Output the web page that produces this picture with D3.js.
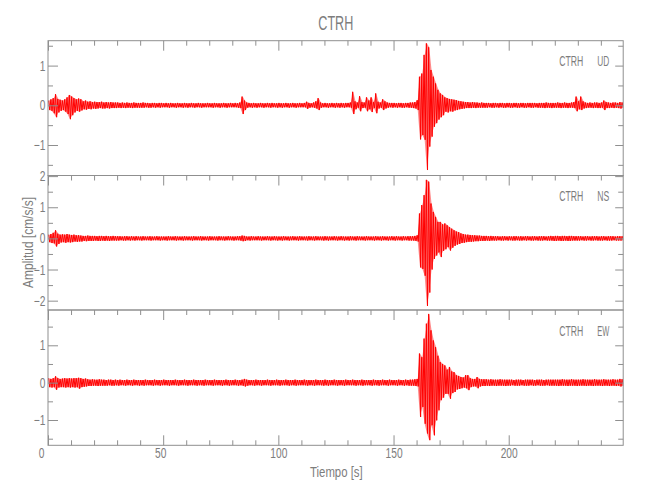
<!DOCTYPE html>
<html><head><meta charset="utf-8">
<script src="https://cdn.jsdelivr.net/npm/d3@7"></script>
<style>body{margin:0;background:#fff}svg{display:block}</style>
</head><body><svg id="c" width="650" height="500"></svg>
<script>
// ---------------- data ----------------
const station = "CTRH";
const components = ["UD", "NS", "EW"];
const xTickValues = [0, 50, 100, 150, 200];
const binSeconds = 1;            // each value = extreme of the trace in one 1-s window
const xLabel = "Tiempo [s]";
const yLabel = "Amplitud [cm/s/s]";

// UD: per-second maxima / minima (cm/s/s)
const udHi = [
0.12,0.15,0.18,0.28,0.16,0.14,0.12,0.15,0.20,0.26,
0.22,0.18,0.15,0.17,0.15,0.10,0.12,0.09,0.10,0.08,
0.09,0.08,0.08,0.09,0.07,0.08,0.07,0.08,0.07,0.07,
0.07,0.06,0.07,0.06,0.07,0.06,0.06,0.07,0.06,0.06,
0.06,0.07,0.06,0.06,0.05,0.06,0.06,0.05,0.06,0.06,
0.05,0.06,0.05,0.06,0.05,0.05,0.06,0.05,0.05,0.06,
0.05,0.05,0.06,0.05,0.05,0.06,0.05,0.05,0.05,0.06,
0.05,0.05,0.06,0.05,0.05,0.05,0.06,0.05,0.05,0.06,
0.05,0.06,0.05,0.07,0.22,0.12,0.07,0.06,0.05,0.06,
0.05,0.05,0.06,0.05,0.05,0.06,0.05,0.06,0.05,0.05,
0.06,0.05,0.05,0.06,0.05,0.05,0.06,0.05,0.05,0.06,
0.05,0.06,0.09,0.06,0.05,0.07,0.10,0.18,0.07,0.05,
0.06,0.05,0.05,0.06,0.05,0.06,0.05,0.06,0.05,0.06,
0.06,0.07,0.34,0.10,0.07,0.23,0.08,0.07,0.20,0.12,
0.20,0.08,0.30,0.09,0.07,0.15,0.10,0.07,0.06,0.06,
0.06,0.05,0.06,0.06,0.05,0.06,0.06,0.07,0.07,0.08,
0.13,0.72,0.80,1.27,1.56,1.46,0.89,0.72,0.55,0.39,
0.30,0.26,0.20,0.18,0.16,0.15,0.14,0.13,0.11,0.10,
0.09,0.08,0.08,0.07,0.08,0.07,0.07,0.06,0.07,0.06,
0.06,0.06,0.05,0.06,0.06,0.05,0.06,0.06,0.05,0.06,
0.06,0.05,0.06,0.06,0.05,0.06,0.06,0.05,0.06,0.06,
0.06,0.06,0.05,0.06,0.06,0.06,0.07,0.06,0.06,0.06,
0.06,0.07,0.06,0.06,0.07,0.06,0.06,0.07,0.08,0.22,
0.10,0.22,0.10,0.07,0.06,0.07,0.06,0.07,0.07,0.06,
0.07,0.12,0.08,0.07,0.06,0.07,0.07,0.06,0.08,0.07];
const udLo = [
-0.12,-0.14,-0.20,-0.30,-0.18,-0.14,-0.12,-0.16,-0.22,-0.35,
-0.25,-0.18,-0.14,-0.16,-0.13,-0.10,-0.11,-0.09,-0.10,-0.08,
-0.09,-0.08,-0.07,-0.08,-0.08,-0.07,-0.08,-0.07,-0.07,-0.07,
-0.06,-0.07,-0.06,-0.07,-0.06,-0.06,-0.07,-0.06,-0.06,-0.06,
-0.06,-0.06,-0.05,-0.06,-0.06,-0.05,-0.06,-0.05,-0.06,-0.05,
-0.05,-0.05,-0.06,-0.05,-0.05,-0.06,-0.05,-0.05,-0.06,-0.05,
-0.06,-0.05,-0.05,-0.06,-0.05,-0.05,-0.06,-0.05,-0.05,-0.05,
-0.05,-0.06,-0.05,-0.05,-0.06,-0.05,-0.05,-0.06,-0.05,-0.05,
-0.05,-0.05,-0.06,-0.07,-0.22,-0.12,-0.06,-0.05,-0.06,-0.05,
-0.06,-0.05,-0.05,-0.06,-0.05,-0.05,-0.06,-0.05,-0.05,-0.06,
-0.05,-0.06,-0.05,-0.05,-0.06,-0.05,-0.05,-0.06,-0.05,-0.05,
-0.05,-0.05,-0.09,-0.06,-0.05,-0.06,-0.08,-0.12,-0.06,-0.05,
-0.05,-0.06,-0.05,-0.05,-0.06,-0.05,-0.06,-0.05,-0.06,-0.05,
-0.05,-0.06,-0.22,-0.10,-0.06,-0.15,-0.07,-0.06,-0.15,-0.10,
-0.17,-0.07,-0.20,-0.08,-0.06,-0.12,-0.08,-0.06,-0.05,-0.06,
-0.05,-0.06,-0.05,-0.06,-0.06,-0.05,-0.06,-0.06,-0.07,-0.08,
-0.12,-0.86,-0.75,-0.87,-1.63,-1.04,-0.79,-0.54,-0.45,-0.36,
-0.30,-0.25,-0.16,-0.18,-0.15,-0.16,-0.13,-0.12,-0.10,-0.09,
-0.08,-0.07,-0.07,-0.07,-0.06,-0.07,-0.06,-0.06,-0.06,-0.06,
-0.06,-0.05,-0.06,-0.06,-0.05,-0.06,-0.05,-0.06,-0.06,-0.05,
-0.06,-0.06,-0.05,-0.06,-0.06,-0.05,-0.06,-0.06,-0.05,-0.06,
-0.06,-0.05,-0.06,-0.06,-0.06,-0.07,-0.06,-0.06,-0.07,-0.06,
-0.06,-0.06,-0.07,-0.06,-0.06,-0.07,-0.06,-0.06,-0.07,-0.15,
-0.10,-0.12,-0.08,-0.07,-0.06,-0.06,-0.07,-0.06,-0.07,-0.07,
-0.06,-0.12,-0.07,-0.07,-0.06,-0.07,-0.06,-0.07,-0.08,-0.07];

// NS
const nsHi = [
0.12,0.14,0.18,0.26,0.15,0.12,0.13,0.12,0.14,0.12,
0.11,0.12,0.10,0.10,0.09,0.08,0.08,0.09,0.08,0.08,
0.08,0.07,0.08,0.08,0.07,0.08,0.07,0.07,0.08,0.07,
0.07,0.07,0.06,0.07,0.07,0.06,0.07,0.06,0.07,0.06,
0.06,0.07,0.06,0.06,0.07,0.06,0.06,0.07,0.06,0.06,
0.06,0.06,0.07,0.06,0.06,0.07,0.06,0.06,0.06,0.07,
0.06,0.06,0.06,0.07,0.06,0.06,0.07,0.06,0.06,0.06,
0.07,0.06,0.06,0.06,0.07,0.06,0.06,0.06,0.07,0.06,
0.06,0.06,0.07,0.07,0.09,0.08,0.06,0.06,0.07,0.06,
0.06,0.07,0.06,0.06,0.06,0.07,0.06,0.06,0.07,0.06,
0.06,0.06,0.07,0.06,0.06,0.06,0.07,0.06,0.06,0.07,
0.06,0.06,0.06,0.07,0.06,0.06,0.07,0.06,0.06,0.06,
0.07,0.06,0.06,0.06,0.07,0.06,0.06,0.07,0.06,0.06,
0.06,0.07,0.06,0.06,0.07,0.06,0.06,0.06,0.07,0.06,
0.06,0.06,0.07,0.06,0.06,0.07,0.06,0.06,0.06,0.07,
0.06,0.07,0.06,0.06,0.07,0.06,0.07,0.07,0.07,0.08,
0.10,0.80,1.07,1.39,1.88,1.82,1.12,0.85,0.69,0.53,
0.53,0.45,0.48,0.42,0.36,0.31,0.26,0.22,0.20,0.16,
0.14,0.12,0.12,0.11,0.10,0.10,0.09,0.09,0.08,0.08,
0.08,0.07,0.08,0.07,0.07,0.07,0.06,0.07,0.07,0.06,
0.07,0.06,0.07,0.07,0.06,0.07,0.06,0.07,0.07,0.06,
0.07,0.07,0.06,0.07,0.07,0.07,0.06,0.07,0.08,0.07,
0.08,0.08,0.07,0.08,0.08,0.07,0.08,0.08,0.07,0.07,
0.07,0.07,0.06,0.07,0.07,0.06,0.07,0.07,0.07,0.06,
0.07,0.07,0.06,0.07,0.07,0.07,0.06,0.07,0.07,0.07];
const nsLo = [
-0.12,-0.15,-0.16,-0.26,-0.18,-0.13,-0.12,-0.14,-0.12,-0.13,
-0.12,-0.10,-0.11,-0.10,-0.10,-0.08,-0.09,-0.08,-0.08,-0.08,
-0.07,-0.08,-0.08,-0.07,-0.08,-0.07,-0.08,-0.07,-0.07,-0.07,
-0.07,-0.06,-0.07,-0.07,-0.06,-0.07,-0.06,-0.07,-0.06,-0.06,
-0.07,-0.06,-0.06,-0.06,-0.07,-0.06,-0.06,-0.06,-0.07,-0.06,
-0.06,-0.07,-0.06,-0.06,-0.06,-0.07,-0.06,-0.06,-0.07,-0.06,
-0.06,-0.06,-0.07,-0.06,-0.06,-0.06,-0.07,-0.06,-0.06,-0.07,
-0.06,-0.06,-0.06,-0.07,-0.06,-0.06,-0.07,-0.06,-0.06,-0.06,
-0.07,-0.06,-0.06,-0.07,-0.09,-0.08,-0.06,-0.07,-0.06,-0.06,
-0.06,-0.06,-0.07,-0.06,-0.06,-0.06,-0.07,-0.06,-0.06,-0.07,
-0.06,-0.07,-0.06,-0.06,-0.07,-0.06,-0.06,-0.06,-0.07,-0.06,
-0.06,-0.06,-0.07,-0.06,-0.06,-0.07,-0.06,-0.06,-0.06,-0.07,
-0.06,-0.07,-0.06,-0.06,-0.06,-0.07,-0.06,-0.06,-0.07,-0.06,
-0.07,-0.06,-0.06,-0.07,-0.06,-0.06,-0.06,-0.07,-0.06,-0.06,
-0.06,-0.07,-0.06,-0.06,-0.07,-0.06,-0.06,-0.07,-0.06,-0.06,
-0.07,-0.06,-0.06,-0.07,-0.06,-0.06,-0.07,-0.07,-0.07,-0.08,
-0.10,-0.93,-0.98,-1.20,-2.17,-1.74,-1.00,-0.66,-0.55,-0.45,
-0.60,-0.40,-0.35,-0.28,-0.39,-0.30,-0.24,-0.20,-0.18,-0.15,
-0.14,-0.12,-0.11,-0.11,-0.10,-0.09,-0.09,-0.08,-0.08,-0.08,
-0.07,-0.08,-0.07,-0.07,-0.07,-0.06,-0.07,-0.07,-0.06,-0.07,
-0.06,-0.07,-0.07,-0.06,-0.07,-0.07,-0.06,-0.07,-0.06,-0.07,
-0.07,-0.06,-0.07,-0.07,-0.07,-0.06,-0.07,-0.07,-0.07,-0.08,
-0.08,-0.07,-0.08,-0.08,-0.07,-0.08,-0.08,-0.07,-0.07,-0.07,
-0.07,-0.06,-0.07,-0.07,-0.06,-0.07,-0.07,-0.06,-0.07,-0.07,
-0.07,-0.06,-0.07,-0.07,-0.07,-0.06,-0.07,-0.07,-0.07,-0.07];

// EW
const ewHi = [
0.12,0.10,0.12,0.17,0.12,0.10,0.11,0.12,0.11,0.12,
0.11,0.12,0.12,0.13,0.12,0.10,0.11,0.09,0.08,0.09,
0.08,0.08,0.09,0.08,0.08,0.07,0.08,0.08,0.07,0.08,
0.07,0.08,0.07,0.07,0.08,0.07,0.07,0.08,0.07,0.07,
0.07,0.07,0.08,0.07,0.07,0.07,0.08,0.07,0.07,0.07,
0.08,0.07,0.07,0.07,0.07,0.08,0.07,0.07,0.07,0.08,
0.07,0.07,0.07,0.08,0.07,0.07,0.07,0.07,0.08,0.07,
0.07,0.07,0.08,0.07,0.07,0.07,0.07,0.08,0.07,0.07,
0.07,0.08,0.07,0.07,0.08,0.10,0.08,0.07,0.07,0.07,
0.08,0.07,0.07,0.07,0.07,0.08,0.07,0.07,0.07,0.08,
0.07,0.07,0.07,0.08,0.07,0.07,0.07,0.08,0.07,0.07,
0.07,0.08,0.07,0.07,0.07,0.07,0.08,0.07,0.07,0.07,
0.08,0.07,0.07,0.07,0.08,0.07,0.07,0.07,0.07,0.08,
0.07,0.07,0.08,0.07,0.07,0.07,0.08,0.07,0.07,0.07,
0.07,0.08,0.07,0.07,0.07,0.08,0.07,0.07,0.08,0.07,
0.07,0.07,0.08,0.07,0.07,0.08,0.07,0.08,0.08,0.09,
0.10,0.78,0.68,1.18,1.58,1.84,1.40,1.13,0.95,0.72,
0.55,0.50,0.46,0.35,0.42,0.30,0.28,0.20,0.18,0.15,
0.14,0.20,0.20,0.12,0.10,0.10,0.15,0.10,0.09,0.09,
0.09,0.08,0.09,0.08,0.08,0.08,0.09,0.08,0.08,0.08,
0.08,0.08,0.07,0.08,0.08,0.08,0.07,0.08,0.08,0.08,
0.08,0.07,0.08,0.08,0.08,0.07,0.08,0.08,0.08,0.08,
0.08,0.08,0.08,0.09,0.08,0.08,0.08,0.09,0.08,0.08,
0.08,0.08,0.09,0.08,0.08,0.08,0.08,0.09,0.08,0.08,
0.08,0.09,0.08,0.08,0.08,0.09,0.08,0.08,0.10,0.09];
const ewLo = [
-0.12,-0.13,-0.12,-0.19,-0.13,-0.12,-0.12,-0.13,-0.12,-0.13,
-0.12,-0.13,-0.12,-0.16,-0.12,-0.11,-0.10,-0.09,-0.09,-0.08,
-0.08,-0.09,-0.08,-0.08,-0.08,-0.08,-0.07,-0.08,-0.08,-0.07,
-0.08,-0.07,-0.07,-0.08,-0.07,-0.07,-0.08,-0.07,-0.07,-0.08,
-0.07,-0.08,-0.07,-0.07,-0.07,-0.08,-0.07,-0.07,-0.08,-0.07,
-0.07,-0.07,-0.08,-0.07,-0.07,-0.07,-0.08,-0.07,-0.07,-0.07,
-0.08,-0.07,-0.07,-0.07,-0.08,-0.07,-0.07,-0.08,-0.07,-0.07,
-0.07,-0.08,-0.07,-0.07,-0.07,-0.08,-0.07,-0.07,-0.08,-0.07,
-0.07,-0.07,-0.08,-0.07,-0.08,-0.10,-0.08,-0.07,-0.07,-0.08,
-0.07,-0.07,-0.08,-0.07,-0.07,-0.07,-0.08,-0.07,-0.07,-0.07,
-0.08,-0.07,-0.07,-0.07,-0.08,-0.07,-0.07,-0.08,-0.07,-0.07,
-0.07,-0.07,-0.08,-0.07,-0.07,-0.08,-0.07,-0.07,-0.07,-0.08,
-0.07,-0.08,-0.07,-0.07,-0.07,-0.08,-0.07,-0.07,-0.08,-0.07,
-0.07,-0.07,-0.07,-0.08,-0.07,-0.07,-0.08,-0.07,-0.07,-0.07,
-0.08,-0.07,-0.07,-0.08,-0.07,-0.07,-0.07,-0.08,-0.07,-0.07,
-0.07,-0.08,-0.07,-0.07,-0.08,-0.07,-0.08,-0.08,-0.08,-0.09,
-0.10,-0.92,-0.65,-1.10,-1.36,-1.54,-1.14,-1.41,-1.01,-0.74,
-0.47,-0.40,-0.30,-0.30,-0.43,-0.28,-0.25,-0.18,-0.17,-0.15,
-0.13,-0.15,-0.20,-0.12,-0.10,-0.10,-0.15,-0.10,-0.09,-0.09,
-0.08,-0.09,-0.08,-0.08,-0.09,-0.08,-0.08,-0.08,-0.09,-0.08,
-0.08,-0.07,-0.08,-0.08,-0.08,-0.07,-0.08,-0.08,-0.08,-0.07,
-0.08,-0.08,-0.07,-0.08,-0.08,-0.08,-0.07,-0.08,-0.08,-0.08,
-0.08,-0.09,-0.08,-0.08,-0.08,-0.09,-0.08,-0.08,-0.08,-0.09,
-0.08,-0.08,-0.08,-0.09,-0.08,-0.08,-0.09,-0.08,-0.08,-0.08,
-0.09,-0.08,-0.08,-0.09,-0.08,-0.08,-0.09,-0.08,-0.10,-0.09];

// ---------------- drawing ----------------
const svg = d3.select("#c");
const grey = "#8f8f8f", txt = "#7d7d7d";
const font = "'Liberation Sans', Arial, sans-serif";
const x0 = 48, x1 = 623.2;
const panels = [
  {name: components[0], hi: udHi, lo: udLo, top: 40.7,  bottom: 175.5, dom: [-1.768, 1.627]},
  {name: components[1], hi: nsHi, lo: nsLo, top: 175.5, bottom: 310,   dom: [-2.30, 2.02]},
  {name: components[2], hi: ewHi, lo: ewLo, top: 310,   bottom: 445.3, dom: [-1.677, 1.945]}
];
const x = d3.scaleLinear().domain([0, 249.7]).range([x0, x1]);
const minorX = d3.range(0, 250, 10).filter(v => !xTickValues.includes(v));
const narrow = 0.73;

panels.forEach((p, k) => {
  const y = d3.scaleLinear().domain(p.dom).range([p.bottom, p.top]);
  const g = svg.append("g");

  const cid = "clip" + k;
  svg.append("clipPath").attr("id", cid).append("rect")
    .attr("x", x0).attr("y", p.top).attr("width", x1 - x0).attr("height", p.bottom - p.top);

  // envelope band (lighter, like the anti-aliased dense trace)
  const bins = p.hi.map((v, i) => ({t: (i + 0.5) * binSeconds, hi: v, lo: p.lo[i]}));
  g.append("path")
    .attr("clip-path", `url(#${cid})`)
    .attr("d", d3.area().x(d => x(d.t)).y0(d => y(d.lo)).y1(d => y(d.hi))(bins))
    .attr("fill", "#ff0000").attr("fill-opacity", 0.45).attr("stroke", "none");

  // trace: each 1-s window drawn from its max to its min
  const pts = [];
  p.hi.forEach((v, i) => {
    pts.push([i * binSeconds + 0.25 * binSeconds, v]);
    pts.push([i * binSeconds + 0.75 * binSeconds, p.lo[i]]);
  });
  g.append("path")
    .attr("clip-path", `url(#${cid})`)
    .attr("d", d3.line().x(d => x(d[0])).y(d => y(d[1]))(pts))
    .attr("fill", "none").attr("stroke", "#ff0000")
    .attr("stroke-width", 1).attr("stroke-linejoin", "bevel");

  // frame
  g.append("rect").attr("x", x0).attr("y", p.top)
    .attr("width", x1 - x0).attr("height", p.bottom - p.top)
    .attr("fill", "none").attr("stroke", grey).attr("stroke-width", 1);

  // y axis left: major (labelled) + minor
  const yMaj = d3.range(Math.ceil(p.dom[0]), Math.floor(p.dom[1]) + 1);
  const yMin = d3.range(Math.ceil(p.dom[0] * 2) / 2, p.dom[1], 0.5).filter(v => !Number.isInteger(v));
  const la = g.append("g").attr("transform", `translate(${x0},0)`)
    .call(d3.axisLeft(y).tickValues(yMaj).tickSizeInner(-10).tickSizeOuter(0).tickPadding(2.5)
      .tickFormat(d3.format("d")));
  g.append("g").attr("transform", `translate(${x0},0)`)
    .call(d3.axisLeft(y).tickValues(yMin).tickSizeInner(-5).tickSizeOuter(0).tickFormat(""));
  g.append("g").attr("transform", `translate(${x1},0)`)
    .call(d3.axisRight(y).tickValues(yMaj).tickSizeInner(-8).tickSizeOuter(0).tickFormat(""));
  g.append("g").attr("transform", `translate(${x1},0)`)
    .call(d3.axisRight(y).tickValues(yMin).tickSizeInner(-5).tickSizeOuter(0).tickFormat(""));
  la.selectAll("text").attr("transform", `scale(${narrow},1)`).attr("x", -2.5 / narrow);

  // x ticks on top of each panel (pointing in)
  g.append("g").attr("transform", `translate(0,${p.top})`)
    .call(d3.axisTop(x).tickValues(xTickValues).tickSizeInner(-10).tickSizeOuter(0).tickFormat(""));
  g.append("g").attr("transform", `translate(0,${p.top})`)
    .call(d3.axisTop(x).tickValues(minorX).tickSizeInner(-5).tickSizeOuter(0).tickFormat(""));

  if (k === panels.length - 1) {
    const ba = g.append("g").attr("transform", `translate(0,${p.bottom})`)
      .call(d3.axisBottom(x).tickValues(xTickValues).tickSizeInner(-10).tickSizeOuter(0).tickPadding(3)
        .tickFormat(d3.format("d")));
    g.append("g").attr("transform", `translate(0,${p.bottom})`)
      .call(d3.axisBottom(x).tickValues(minorX).tickSizeInner(-5).tickSizeOuter(0).tickFormat(""));
    ba.selectAll("text").attr("transform", `scale(${narrow},1)`)
      .attr("x", d => (d === 0 ? -7 : d === 50 ? -3 : 0) / narrow);
  }

  // panel label
  const base = p.top + 25.5;
  g.append("text").attr("x", 559.3).attr("y", base).text(station)
    .attr("textLength", 24).attr("lengthAdjust", "spacingAndGlyphs")
    .attr("font-size", 14).attr("font-family", font).attr("fill", txt);
  g.append("text").attr("x", 597.3).attr("y", base).text(p.name)
    .attr("textLength", 12).attr("lengthAdjust", "spacingAndGlyphs")
    .attr("font-size", 14).attr("font-family", font).attr("fill", txt);
});

svg.selectAll(".domain").remove();
svg.selectAll(".tick line").attr("stroke", grey);
svg.selectAll(".tick text").attr("fill", txt).attr("font-size", 14).attr("font-family", font);

// title
svg.append("text").attr("x", 318.3).attr("y", 30).text(station)
  .attr("textLength", 35).attr("lengthAdjust", "spacingAndGlyphs")
  .attr("font-size", 20).attr("font-family", font).attr("fill", txt);
// axis titles
svg.append("text").attr("x", 310).attr("y", 476.5).text(xLabel)
  .attr("textLength", 52.7).attr("lengthAdjust", "spacingAndGlyphs")
  .attr("font-size", 14).attr("font-family", font).attr("fill", txt);
svg.append("text").attr("transform", "translate(32.5,242.4) rotate(-90)")
  .attr("text-anchor", "middle").text(yLabel)
  .attr("textLength", 91).attr("lengthAdjust", "spacingAndGlyphs")
  .attr("font-size", 14).attr("font-family", font).attr("fill", txt);
</script>
</body></html>
